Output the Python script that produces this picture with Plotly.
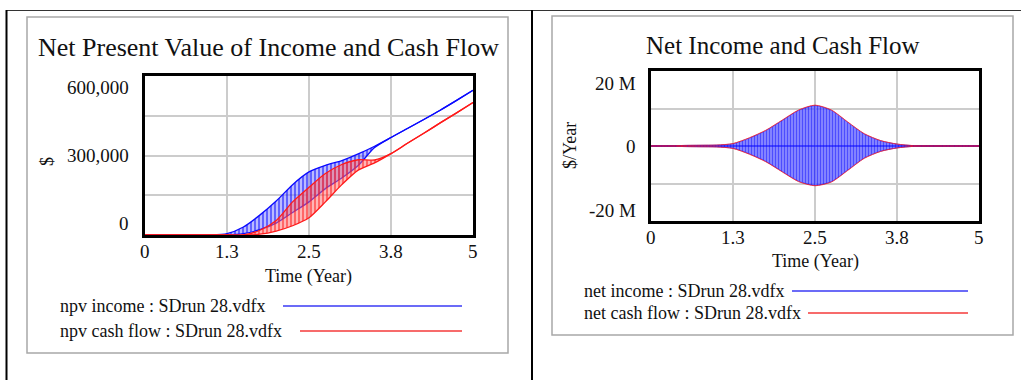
import plotly.graph_objects as go

W, H = 1021, 380

# ---------------- data ----------------
time = [0, 0.25, 0.5, 0.75, 1.0, 1.25, 1.5, 1.75, 2.0, 2.25, 2.5,
        2.75, 3.0, 3.25, 3.5, 3.75, 4.0, 4.25, 4.5, 4.75, 5.0]

# left chart: npv series oscillate every time step between a high and a low value ($)
npv_income_high = [0, 0, 0, 0, 0, 5000, 30000, 75000, 128000, 190000, 238000,
                   263000, 281000, 306000, 335000, 368000, 402000, 436000, 471000, 508000, 546000]
npv_income_low = [0, 0, 0, 0, 0, 0, 5000, 20000, 45000, 85000, 125000,
                  175000, 215000, 262000, 330000, 368000, 402000, 436000, 471000, 508000, 546000]
npv_cash_high = [0, 0, 0, 0, 0, 0, 0, 18000, 55000, 125000, 180000,
                 232000, 266000, 284000, 283000, 307000, 346000, 384000, 423000, 461000, 500000]
npv_cash_low = [0, 0, 0, 0, 0, 0, 0, 3000, 15000, 35000, 65000,
                125000, 190000, 245000, 272000, 307000, 346000, 384000, 423000, 461000, 500000]

# right chart: net series swing between + and - each time step ($/Year)
net_income_high = [0, 0, 150000, 200000, 250000, 600000, 2100000, 4100000, 6800000, 9500000, 10800000,
                   9500000, 6300000, 3200000, 1400000, 500000, 100000, 0, 0, 0, 0]
net_income_low = [0, 0, -150000, -200000, -250000, -600000, -2100000, -4100000, -6800000, -9400000, -10500000,
                  -9500000, -6400000, -3200000, -1400000, -500000, -100000, 0, 0, 0, 0]
net_cash_high = [0, 0, 150000, 200000, 250000, 650000, 2200000, 4200000, 6900000, 9600000, 10900000,
                 9600000, 6400000, 3300000, 1450000, 520000, 100000, 0, 0, 0, 0]
net_cash_low = [0, 0, -150000, -200000, -250000, -650000, -2200000, -4200000, -6900000, -9500000, -10600000,
                -9600000, -6500000, -3300000, -1450000, -520000, -100000, 0, 0, 0, 0]

x_tickvals = [0, 1.25, 2.5, 3.75, 5]
x_ticktext = ["0", "1.3", "2.5", "3.8", "5"]
left_yvals = [0, 150000, 300000, 450000, 600000]
left_ylabels = {600000: "600,000", 300000: "300,000", 0: "0"}
right_yvals = [-20000000, -10000000, 0, 10000000, 20000000]
right_ylabels = {20000000: "20 M", 0: "0", -20000000: "-20 M"}

# ---------------- helpers ----------------
def px(x):
    return x / W


def py(y):
    return 1 - y / H


FONT = "Liberation Serif, Times New Roman, serif"
TXT = "#111111"
BLUE = "#0a0aff"
RED = "#ff1a1a"

fig = go.Figure()

# ---- left chart traces ----
fig.add_trace(go.Scatter(x=time, y=npv_income_high, mode="lines", xaxis="x", yaxis="y",
                         line=dict(color=BLUE, width=1.3, shape="spline", smoothing=0.7)))
fig.add_trace(go.Scatter(x=time, y=npv_income_low, mode="lines", xaxis="x", yaxis="y",
                         line=dict(color=BLUE, width=1.3, shape="spline", smoothing=0.7),
                         fill="tonexty", fillcolor="rgba(120,120,255,0.5)",
                         fillpattern=dict(shape="|", fgcolor=BLUE, bgcolor="rgba(120,120,255,0.5)",
                                          size=4, solidity=0.5)))
fig.add_trace(go.Scatter(x=time, y=npv_cash_high, mode="lines", xaxis="x", yaxis="y",
                         line=dict(color=RED, width=1.3, shape="spline", smoothing=0.7)))
fig.add_trace(go.Scatter(x=time, y=npv_cash_low, mode="lines", xaxis="x", yaxis="y",
                         line=dict(color=RED, width=1.3, shape="spline", smoothing=0.7),
                         fill="tonexty", fillcolor="rgba(255,100,100,0.5)",
                         fillpattern=dict(shape="|", fgcolor=RED, bgcolor="rgba(255,110,110,0.5)",
                                          size=4, solidity=0.5)))

# ---- right chart traces ----
fig.add_trace(go.Scatter(x=time, y=net_income_high, mode="lines", xaxis="x2", yaxis="y2",
                         line=dict(color=BLUE, width=0.6, shape="spline", smoothing=0.7)))
fig.add_trace(go.Scatter(x=time, y=net_income_low, mode="lines", xaxis="x2", yaxis="y2",
                         line=dict(color=BLUE, width=0.6, shape="spline", smoothing=0.7),
                         fill="tonexty", fillcolor="rgba(90,90,255,0.7)",
                         fillpattern=dict(shape="|", fgcolor=BLUE, bgcolor="rgba(95,95,255,0.7)",
                                          size=3, solidity=0.45)))
fig.add_trace(go.Scatter(x=time, y=net_cash_high, mode="lines", xaxis="x2", yaxis="y2",
                         line=dict(color=RED, width=1, shape="spline", smoothing=0.7), opacity=0.8))
fig.add_trace(go.Scatter(x=time, y=net_cash_low, mode="lines", xaxis="x2", yaxis="y2",
                         line=dict(color=RED, width=1, shape="spline", smoothing=0.7), opacity=0.8))

axis_common = dict(showgrid=True, gridcolor="#cccccc", gridwidth=1.5, showline=True, mirror=True,
                   linecolor="black", linewidth=2.5, ticks="", zeroline=False, fixedrange=True)

fig.update_layout(
    width=W, height=H, margin=dict(l=0, r=0, t=0, b=0),
    paper_bgcolor="white", plot_bgcolor="white", showlegend=False,
    xaxis=dict(domain=[px(145), px(473)], range=[0, 5], anchor="y",
               tickvals=x_tickvals, showticklabels=False, **axis_common),
    yaxis=dict(domain=[py(235), py(76)], range=[0, 600000], anchor="x",
               tickvals=left_yvals, showticklabels=False, **axis_common),
    xaxis2=dict(domain=[px(651), px(979)], range=[0, 5], anchor="y2",
                tickvals=x_tickvals, showticklabels=False, **axis_common),
    yaxis2=dict(domain=[py(221), py(71)], range=[-20000000, 20000000], anchor="x2",
                tickvals=right_yvals, showticklabels=False, **axis_common),
)
fig.update_yaxes(selector=dict(anchor="x2"), zeroline=True, zerolinecolor=BLUE, zerolinewidth=1.6)

annotations = []


def text(x, y, s, size=18, xanchor="center", angle=0, xref="paper", yref="paper", yshift=0):
    annotations.append(dict(x=x, y=y, xref=xref, yref=yref, text=s, showarrow=False,
                            xanchor=xanchor, yanchor="middle", textangle=angle, yshift=yshift,
                            font=dict(family=FONT, size=size, color=TXT)))


# titles
text(px(268), py(47), "Net Present Value of Income and Cash Flow", size=26)
text(px(783), py(45), "Net Income and Cash Flow", size=25)

# y tick labels (Vensim style: end labels sit inside the frame)
for v, s in left_ylabels.items():
    shift = -12 if v == 600000 else (12 if v == 0 else 0)
    text(px(131), v, s, size=19, xanchor="right", yref="y", yshift=shift)
for v, s in right_ylabels.items():
    shift = -12 if v == 20000000 else (11 if v == -20000000 else 0)
    text(px(638), v, s, size=19, xanchor="right", yref="y2", yshift=shift)

# x tick labels
for v, s in zip(x_tickvals, x_ticktext):
    text(v, py(252), s, size=19, xref="x")
    text(v, py(238), s, size=19, xref="x2")

# axis titles
text(px(308), py(276), "Time (Year)", size=18)
text(px(815), py(261), "Time (Year)", size=18)
text(px(47), py(162), "$", size=18, angle=-90)
text(px(570), py(146), "$/Year", size=18, angle=-90)

# legends
text(px(58), py(306), "npv income : SDrun 28.vdfx", size=18, xanchor="left")
text(px(58), py(331), "npv cash flow : SDrun 28.vdfx", size=18, xanchor="left")
text(px(582), py(291), "net income : SDrun 28.vdfx", size=18, xanchor="left")
text(px(582), py(313), "net cash flow : SDrun 28.vdfx", size=18, xanchor="left")

fig.update_layout(annotations=annotations)

shapes = []


def line(x0, y0, x1, y1, color, width):
    shapes.append(dict(type="line", xref="paper", yref="paper", x0=px(x0), y0=py(y0),
                       x1=px(x1), y1=py(y1), line=dict(color=color, width=width)))


# legend sample lines
line(283, 306, 462, 306, "#3a3af5", 1.6)
line(300, 331, 462, 331, "#f53a3a", 1.6)
line(792, 291, 968, 291, "#3a3af5", 1.6)
line(808, 313, 968, 313, "#f53a3a", 1.6)

# table borders
line(6, 10.5, 1021, 10.5, "#333333", 1)
line(6.5, 10, 6.5, 380, "black", 2)
line(532, 10, 532, 380, "black", 2)

# panel frames
for x0, y0, x1, y1 in [(27, 17, 508, 353), (552, 16, 1013, 335)]:
    shapes.append(dict(type="rect", xref="paper", yref="paper", x0=px(x0), y0=py(y1),
                       x1=px(x1), y1=py(y0), line=dict(color="#a8a8a8", width=1.5)))

fig.update_layout(shapes=shapes)

fig.write_html("out.html", config={"displayModeBar": False},
               post_script="document.body.style.margin='0';document.body.style.padding='0';")
